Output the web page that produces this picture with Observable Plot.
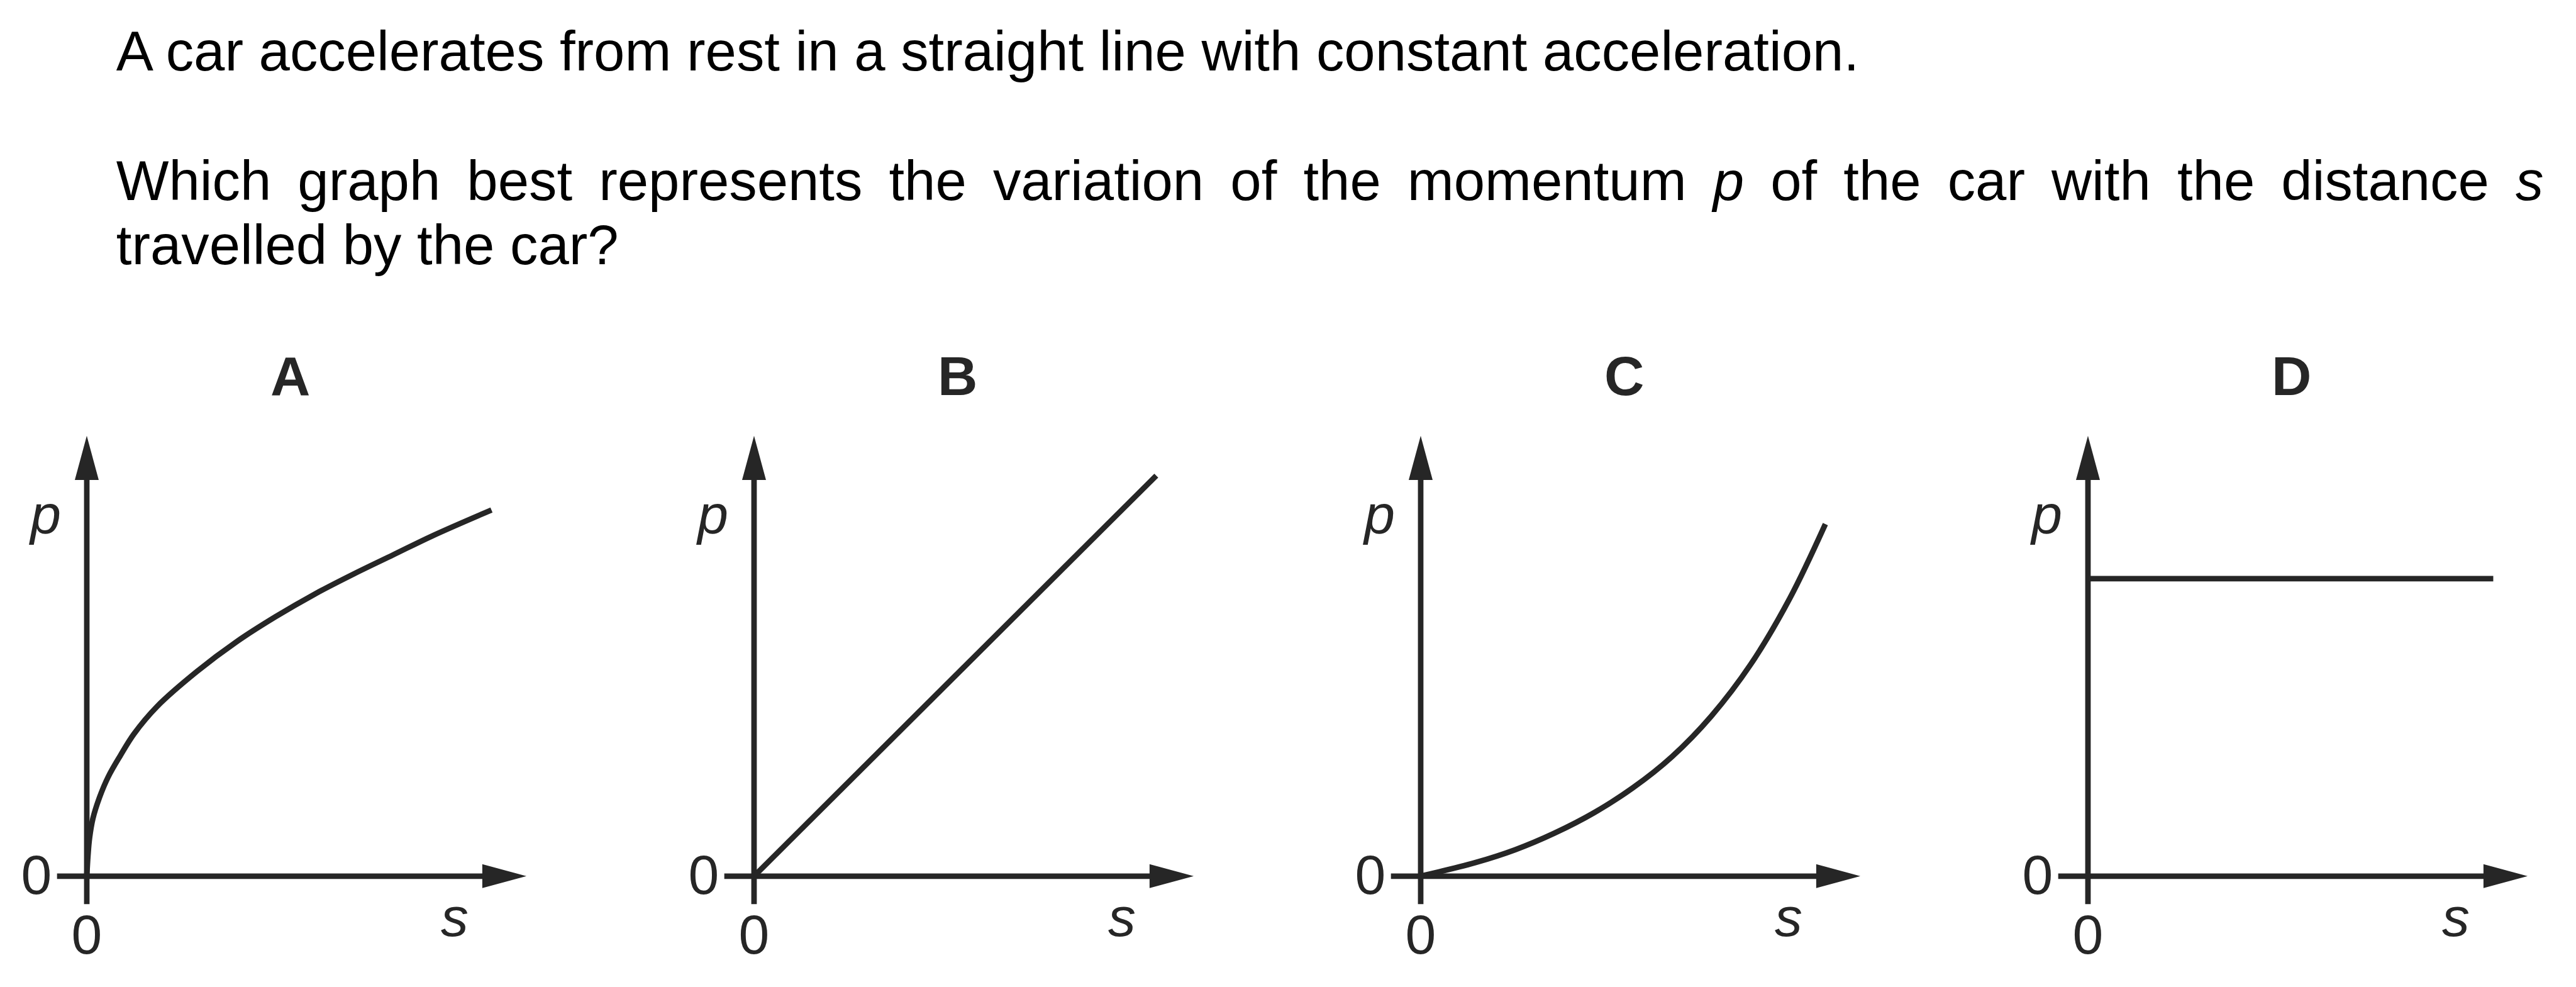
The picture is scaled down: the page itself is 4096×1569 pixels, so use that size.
<!DOCTYPE html>
<html>
<head>
<meta charset="utf-8">
<script src="https://cdn.jsdelivr.net/npm/d3@7"></script>
<script src="https://cdn.jsdelivr.net/npm/@observablehq/plot@0.6"></script>
<style>
  html, body { margin: 0; padding: 0; background: #fff; }
  body { width: 4096px; height: 1569px; overflow: hidden; position: relative; }
  .q { position: absolute; color: #000; font-family: "Liberation Sans", Arial, sans-serif; white-space: nowrap; }
  .panel { position: absolute; }
</style>
</head>
<body>
<div id="root"></div>
<script>
// ---------- data (s and p in arbitrary units) ----------
const questionLines = [
  "A car accelerates from rest in a straight line with constant acceleration.",
  "Which graph best represents the variation of the momentum <i>p</i> of the car with the distance <i>s</i>",
  "travelled by the car?"
];
const panelLetters = ["A", "B", "C", "D"];

const curveA_s = [0, 2, 4.5, 10, 21, 35, 55, 77, 115, 180, 244, 308, 372, 436, 500, 564, 660];
const curveA_p = [0, 34, 62, 94, 129, 162, 197, 232, 277, 334, 382, 423, 460, 493, 524, 555, 597];

const curveB_s = [0, 656];
const curveB_p = [0, 653];

const curveC_s = [0, 89, 154, 218, 282, 346, 410, 474, 538, 602, 660];
const curveC_p = [0, 22, 43, 70, 103, 144, 195, 261, 345, 453, 574];

const curveD_s = [0, 661];
const curveD_p = [485, 485];

const curveTypes = ["catmull-rom", "linear", "catmull-rom", "linear"];

const axisTickLabels = [0];
const xAxisLabel = "s";
const yAxisLabel = "p";

// ---------- layout ----------
const k = 0.975;                       // overall scale
const INK = "#262626";
const FONT = "'Liberation Sans', Arial, Helvetica, sans-serif";

// question text
const qFont = 91 * k, qLine = 105 * k;
const baseOff = qLine / 2 + 0.3465 * qFont;
const qLeft = 189.5 * k;
const qRight = 4148 * k;
const qBaselines = [116 * k, 327 * k, 432 * k];

const root = document.getElementById("root");
questionLines.forEach((t, i) => {
  const d = document.createElement("div");
  d.className = "q";
  d.innerHTML = t;
  d.style.left = qLeft + "px";
  d.style.top = (qBaselines[i] - baseOff) + "px";
  d.style.fontSize = qFont + "px";
  d.style.lineHeight = qLine + "px";
  if (i === 1) {
    d.style.width = (qRight - qLeft) + "px";
    d.style.textAlign = "justify";
    d.style.textAlignLast = "justify";
  }
  root.appendChild(d);
});

// panels
const xDomain = [-48, 717];
const yDomain = [-46, 718];
const arrowLen = 72, arrowWid = 39;
const panelW = 930, panelH = 1009, panelTop = 560;
const mLeft = 93, mTop = 150, mBottom = 95;
const mRight = panelW - mLeft - (xDomain[1] - xDomain[0]);
const originX0 = 141, originStep = 1087.7;

const arrowHead = {
  draw(ctx) {
    const L = arrowLen * k, W = arrowWid * k;
    ctx.moveTo(0, 0);
    ctx.lineTo(-L, -W / 2);
    ctx.lineTo(-L, W / 2);
    ctx.closePath();
  }
};

const curves = [
  [curveA_s, curveA_p],
  [curveB_s, curveB_p],
  [curveC_s, curveC_p],
  [curveD_s, curveD_p]
];

const labelFont = 90 * k;

panelLetters.forEach((letter, i) => {
  const [S, P] = curves[i];
  const data = S.map((s, j) => ({ s, p: P[j] }));
  const arrows = [
    { x: xDomain[1], y: 0, rot: 0 },
    { x: 0, y: yDomain[1], rot: -90 }
  ];
  const plot = Plot.plot({
    width: panelW * k,
    height: panelH * k,
    marginLeft: mLeft * k,
    marginRight: mRight * k,
    marginTop: mTop * k,
    marginBottom: mBottom * k,
    x: { domain: xDomain },
    y: { domain: yDomain },
    style: { fontFamily: FONT, fontSize: labelFont + "px", color: INK, background: "transparent", overflow: "visible" },
    marks: [
      Plot.ruleY([0], { x1: xDomain[0], x2: xDomain[1] - arrowLen + 2, stroke: INK, strokeWidth: 9 * k }),
      Plot.ruleX([0], { y1: yDomain[0], y2: yDomain[1] - arrowLen + 2, stroke: INK, strokeWidth: 9 * k }),
      Plot.dot(arrows, { x: "x", y: "y", rotate: "rot", symbol: arrowHead, fill: INK, stroke: "none", r: 10 }),
      Plot.line(data, { x: "s", y: "p", curve: curveTypes[i], stroke: INK, strokeWidth: 9 * k, strokeLinecap: "butt", strokeLinejoin: "round" }),
      Plot.axisX({ ticks: axisTickLabels, tickSize: 0, tickPadding: 16 * k, label: null, fontSize: labelFont, fill: INK }),
      Plot.axisY({ ticks: axisTickLabels, tickSize: 0, tickPadding: 9 * k, label: null, fontSize: labelFont, fill: INK }),
      Plot.text([yAxisLabel], { x: -67, y: 559, text: d => d, fontStyle: "italic", fontSize: labelFont, lineAnchor: "bottom", textAnchor: "middle", fill: INK }),
      Plot.text([xAxisLabel], { x: 600, y: -98, text: d => d, fontStyle: "italic", fontSize: labelFont, lineAnchor: "bottom", textAnchor: "middle", fill: INK }),
      Plot.text([letter], { x: 332, y: 784, text: d => d, fontWeight: "bold", fontSize: labelFont, lineAnchor: "bottom", textAnchor: "middle", fill: INK })
    ]
  });
  const wrap = document.createElement("div");
  wrap.className = "panel";
  const originX = originX0 + i * originStep;
  wrap.style.left = ((originX - (mLeft - xDomain[0])) * k) + "px";
  wrap.style.top = (panelTop * k) + "px";
  wrap.style.width = (panelW * k) + "px";
  wrap.appendChild(plot);
  root.appendChild(wrap);
});
</script>
</body>
</html>
